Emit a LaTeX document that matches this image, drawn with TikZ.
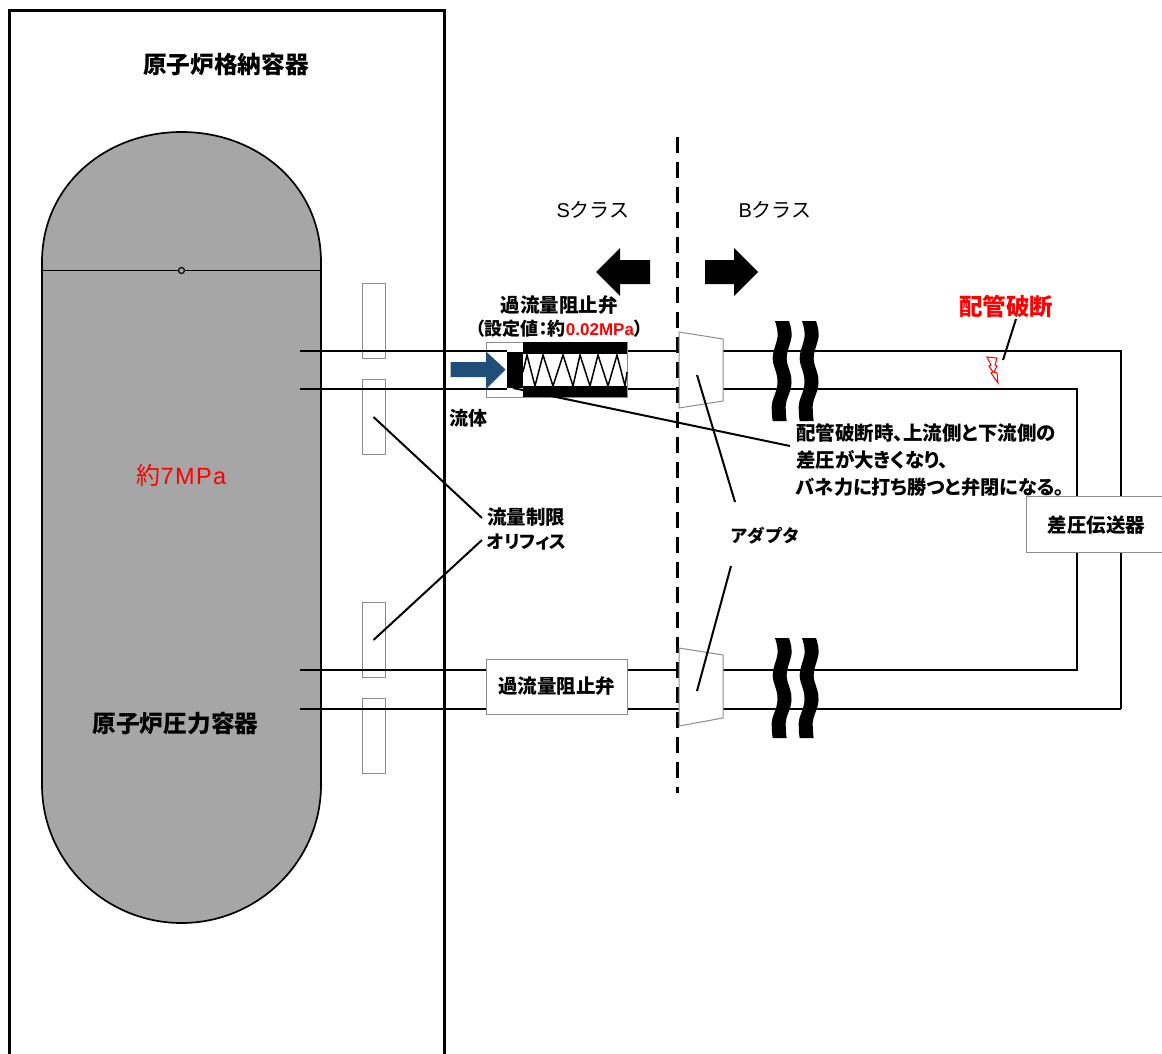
\documentclass[tikz,border=0pt]{standalone}
\usepackage{fontspec}
\setmainfont{Noto Sans CJK JP}
\newfontfamily\latinf{Liberation Sans}
\newfontfamily\latinw[LetterSpace=6]{Liberation Sans}
\newfontfamily\paltf[RawFeature=+palt]{Noto Sans CJK JP}
\usetikzlibrary{calc}
\definecolor{vesselgray}{HTML}{A6A6A6}
\definecolor{flowblue}{HTML}{1F4E79}
\definecolor{edgegray}{HTML}{8C8C8C}
\newcommand{\lab}[1]{\fontsize{#1}{#1}\selectfont\bfseries}
\newcommand{\reg}[1]{\fontsize{#1}{#1}\selectfont}
\newcommand{\wv}[2]{%
  \begin{scope}[shift={(#1,#2)}]
  \fill[black] (775,320) .. controls (777,326) and (778,331) .. (777.5,336)
    .. controls (776,345) and (772.5,350) .. (772.7,358)
    .. controls (773,366) and (778,372) .. (777.5,382)
    .. controls (777,392) and (771.7,398) .. (771.7,405)
    .. controls (771.7,411) and (772,416) .. (772.7,420)
    -- (786.7,420)
    .. controls (786,416) and (785.7,411) .. (785.7,405)
    .. controls (785.7,398) and (791,392) .. (791.5,382)
    .. controls (792,372) and (787,366) .. (786.7,358)
    .. controls (786.5,350) and (790,345) .. (791.5,336)
    .. controls (792,331) and (791,326) .. (789,320) -- cycle;
  \end{scope}}
\tikzset{
  x=1pt,y=-1pt,
  pipe/.style={draw=black,line width=2pt},
  thinpipe/.style={draw=black,line width=1.3pt},
  leader/.style={draw=black,line width=2pt},
  grayrect/.style={draw=edgegray,fill=white,line width=1pt},
  orifice/.style={grayrect,minimum width=23pt,minimum height=75pt,inner sep=0pt,outer sep=0pt},
  txt/.style={inner sep=0pt,outer sep=0pt,text=black},
}
\begin{document}
\begin{tikzpicture}
\useasboundingbox (0,0) rectangle (1162,1054);
\fill[white] (0,0) rectangle (1162,1054);
% containment
\draw[line width=3pt] (9.5,1060) -- (9.5,10.5) -- (444,10.5) -- (444,1060);
% vessel
\path[fill=vesselgray,draw=black,line width=1.7pt]
  (42,270) -- (42,262) .. controls (42,186) and (104.8,132) .. (181.5,132)
  .. controls (258.2,132) and (321,186) .. (321,262) -- (321,785)
  .. controls (321,861) and (258.2,923) .. (181.5,923)
  .. controls (104.8,923) and (42,861) .. (42,785) -- cycle;
\coordinate (hl) at (42,270.5);
\coordinate (hr) at (321,270.5);
\draw[line width=1.7pt] (hl) -- (hr);
\node[circle,draw=black,fill=vesselgray,line width=1.2pt,minimum size=6pt,inner sep=0pt] (hub) at (181.5,270.5) {};
% orifices
\node[orifice] (o1) at (373.5,320.5) {};
\node[orifice] (o2) at (373.5,417) {};
\node[orifice] (o3) at (373.5,640) {};
\node[orifice] (o4) at (373.5,735.5) {};
% pipes
\coordinate (p1a) at (300,351);
\coordinate (p1b) at (1121,351);
\coordinate (p1c) at (1121,709);
\coordinate (p1d) at (300,709);
\coordinate (p2a) at (300,389);
\coordinate (p2b) at (1077,389);
\coordinate (p2c) at (1077,670);
\coordinate (p2d) at (300,670);
\draw[pipe] (p1a) -- (p1b) -- (p1c);
\draw[thinpipe] (p1c) -- (p1d);
\draw[pipe] (p2a) -- (p2b) -- (p2c) -- (p2d);
% dashed divider
\coordinate (d1) at (677.5,137);
\coordinate (d2) at (677.5,793);
\draw[line width=2.1pt,dash pattern=on 16pt off 9pt] (d1) -- (d2);
% adapters
\path[grayrect] (679,332) -- (723,339) -- (723,401) -- (679,408) -- cycle;
\path[grayrect] (679,648) -- (723,655) -- (723,718) -- (679,726) -- cycle;
% upper valve
\node[draw=edgegray,fill=white,line width=0.9pt,minimum width=141pt,minimum height=55pt,inner sep=0pt,outer sep=0pt] (vu) at (556.5,369.5) {};
\draw[pipe] (486,351) -- (507,351);
\draw[pipe] (486,389) -- (507,389);
\draw[line width=1.5pt] (523,372)
  -- (527,355) -- (535,386) -- (543,355) -- (553,386) -- (563,355) -- (573,386) -- (580,355)
  -- (590,386) -- (598,355) -- (608,386) -- (617,355) -- (625,386) -- (627,372);
\fill[black] (523,342) rectangle (627,354);
\fill[black] (523,386) rectangle (627,397);
\fill[black] (507,352) rectangle (523,388);
% flow arrow
\fill[flowblue] (450.5,362) -- (486,362) -- (486,351.5) -- (505.5,369.5) -- (486,389) -- (486,377) -- (450.5,377) -- cycle;
% lower valve
\node[grayrect,minimum width=141pt,minimum height=55pt,inner sep=0pt,outer sep=0pt] (vl) at (556.5,686.5) {\lab{19.5}過流量阻止弁};
% waves
\wv{0}{1}\wv{27}{1}\wv{0}{318}\wv{27}{318}
% direction arrows
\fill[black] (596,272) -- (620,248) -- (620,260) -- (650,260) -- (650,284) -- (620,284) -- (620,296) -- cycle;
\fill[black] (758,272) -- (734,248) -- (734,260) -- (705,260) -- (705,284) -- (734,284) -- (734,296) -- cycle;
% transmitter
\node[grayrect,minimum width=140pt,minimum height=56pt,inner sep=0pt,outer sep=0pt,anchor=north west] (tx) at (1026,496) {};
% lightning
\draw[red,fill=white,line width=1pt] (987,357) -- (997,358) -- (995,365) -- (997,366) -- (994,372) -- (997,373) -- (998,383) -- (991,373) -- (993,372) -- (989,366) -- (991,365) -- cycle;
% labels
\node[txt] (tcv) at (226,65) {\lab{23.7}原子炉格納容器};
\node[txt] (trpv) at (175.5,724) {\lab{23.7}原子炉圧力容器};
\node[txt,text=red] (tp) at (181.5,475) {\reg{24}約{\reg{23.5}\latinw 7MPa}};
\node[txt] (ts) at (593,210) {\reg{20}{\latinf S}クラス};
\node[txt] (tb) at (775,210) {\reg{20}{\latinf B}クラス};
\node[txt] (tv1) at (559,305) {\lab{19.5}過流量阻止弁};
\node[txt] (tv2) at (559.5,329) {\lab{18}\paltf（設定値：約{\lab{17}\latinf\color{red}0.02MPa}）};
\node[txt] (tflow) at (468,418) {\lab{19}流体};
\node[txt,anchor=west] (tor1) at (487,517) {\lab{19.5}流量制限};
\node[txt,anchor=west] (tor2) at (487,542) {\lab{18}\paltf オリフィス};
\node[txt] (tad) at (765,536) {\lab{17.5}アダプタ};
\node[txt,text=red] (tbr) at (1006,306) {\lab{23.5}配管破断};
\node[txt,anchor=west] (tn1) at (796,433) {\lab{19.5}\paltf 配管破断時、上流側と下流側の};
\node[txt,anchor=west] (tn2) at (796,460) {\lab{19.5}\paltf 差圧が大きくなり、};
\node[txt,anchor=west] (tn3) at (796,487) {\lab{19.2}\paltf バネ力に打ち勝つと弁閉になる。};
\node[txt] (ttx) at (1096.5,525) {\lab{19.5}差圧伝送器};
% leaders
\coordinate (lo0) at (482,518);
\draw[leader] (o2.center) -- (lo0);
\coordinate (lo) at (482,540);
\draw[leader] (o3.center) -- (lo);
\coordinate (lv) at (513,388);
\coordinate (ln) at (790,446);
\draw[leader] (lv) -- (ln);
\coordinate (la1) at (697,375);
\coordinate (la2) at (735,502);
\draw[leader] (la1) -- (la2);
\coordinate (la3) at (697,691);
\coordinate (la4) at (731,566);
\draw[leader] (la3) -- (la4);
\coordinate (lb1) at (1016,319);
\coordinate (lb2) at (1003,360);
\draw[leader] (lb1) -- (lb2);
\end{tikzpicture}
\end{document}
